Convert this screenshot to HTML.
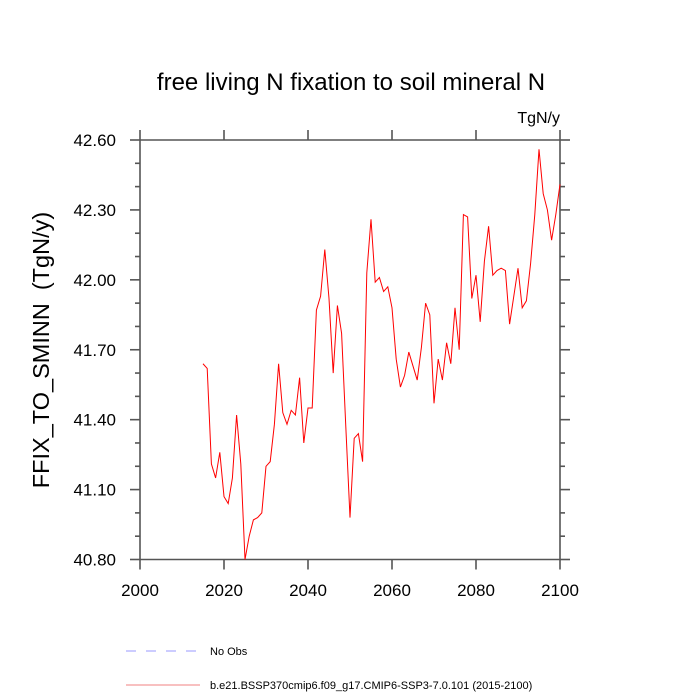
<!DOCTYPE html>
<html><head><meta charset="utf-8"><style>
html,body{margin:0;padding:0;background:#fff;}
svg{display:block;font-family:"Liberation Sans",Arial,sans-serif;}
</style></head><body>
<svg id="chart" width="700" height="700" viewBox="0 0 700 700">
<text x="351" y="90" font-size="24" text-anchor="middle">free living N fixation to soil mineral N</text>
<text x="560" y="123" font-size="16" text-anchor="end">TgN/y</text>
<text transform="translate(49,350) rotate(-90)" font-size="23.5" text-anchor="middle" style="white-space:pre">FFIX_TO_SMINN  (TgN/y)</text>
<g id="axes"></g>
<g id="series"></g>
<line x1="126" y1="651" x2="200" y2="651" stroke="#9999ff" stroke-width="1" stroke-dasharray="10,10"/>
<text x="210" y="655" font-size="11">No Obs</text>
<line x1="126" y1="685" x2="200" y2="685" stroke="#f08080" stroke-width="1"/>
<text x="210" y="689" font-size="11">b.e21.BSSP370cmip6.f09_g17.CMIP6-SSP3-7.0.101 (2015-2100)</text>
</svg>
<script>
const startYear = 2015;
const values = [41.64,41.62,41.21,41.15,41.26,41.07,41.04,41.15,41.42,41.21,
40.80,40.90,40.97,40.98,41.00,41.20,41.22,41.38,41.64,41.43,
41.38,41.44,41.42,41.58,41.30,41.45,41.45,41.87,41.93,42.13,
41.92,41.60,41.89,41.77,41.37,40.98,41.32,41.34,41.22,42.03,
42.26,41.99,42.01,41.95,41.97,41.88,41.66,41.54,41.59,41.69,
41.63,41.57,41.71,41.90,41.85,41.47,41.66,41.57,41.73,41.64,
41.88,41.70,42.28,42.27,41.92,42.02,41.82,42.08,42.23,42.02,
42.04,42.05,42.04,41.81,41.93,42.05,41.88,41.91,42.07,42.28,
42.56,42.37,42.30,42.17,42.28,42.41];
const xTicks = [2000,2020,2040,2060,2080,2100];
const yTicks = [40.80,41.10,41.40,41.70,42.00,42.30,42.60];
const xMin=2000,xMax=2100,yMin=40.8,yMax=42.6;
const L=140,R=560,T=140,B=559.5;
const xs=v=>L+(v-xMin)/(xMax-xMin)*(R-L);
const ys=v=>B-(v-yMin)/(yMax-yMin)*(B-T);
const NS='http://www.w3.org/2000/svg';
const axes=document.getElementById('axes');
function ln(x1,y1,x2,y2,name){
  const l=document.createElementNS(NS,'line');
  l.setAttribute('x1',x1);l.setAttribute('y1',y1);l.setAttribute('x2',x2);l.setAttribute('y2',y2);
  l.setAttribute('stroke','#555');l.setAttribute('stroke-width','1.6');
  
  
  axes.appendChild(l);
}
ln(L,T,R,T,'top-axis');ln(L,B,R,B,'x-axis');ln(L,T,L,B,'y-axis');ln(R,T,R,B,'right-axis');
xTicks.forEach(t=>{
  const x=xs(t);
  ln(x,B,x,B+10,'x-tick');ln(x,T,x,T-10,'x-tick-top');
});
for(let i=0;i<=18;i++){
  const v=yMin+i*0.1;const major=i%3===0;const len=major?10:5;const y=ys(v);
  ln(L,y,L-len,y,'y-tick');ln(R,y,R+len,y,'y-tick-right');
}
xTicks.forEach(t=>{
  const tx=document.createElementNS(NS,'text');
  tx.setAttribute('x',xs(t));tx.setAttribute('y',596);tx.setAttribute('font-size','17');tx.setAttribute('text-anchor','middle');
  tx.textContent=t;
  
  
  axes.appendChild(tx);
});
yTicks.forEach(t=>{
  const tx=document.createElementNS(NS,'text');
  tx.setAttribute('x',116);tx.setAttribute('y',ys(t)+6);tx.setAttribute('font-size','17');tx.setAttribute('text-anchor','end');
  tx.textContent=t.toFixed(2);
  
  
  axes.appendChild(tx);
});
const p=document.createElementNS(NS,'polyline');
p.setAttribute('points',values.map((v,i)=>xs(startYear+i)+','+ys(v)).join(' '));
p.setAttribute('fill','none');p.setAttribute('stroke','#ff0000');p.setAttribute('stroke-width','1');


document.getElementById('series').appendChild(p);
</script>
</body></html>
